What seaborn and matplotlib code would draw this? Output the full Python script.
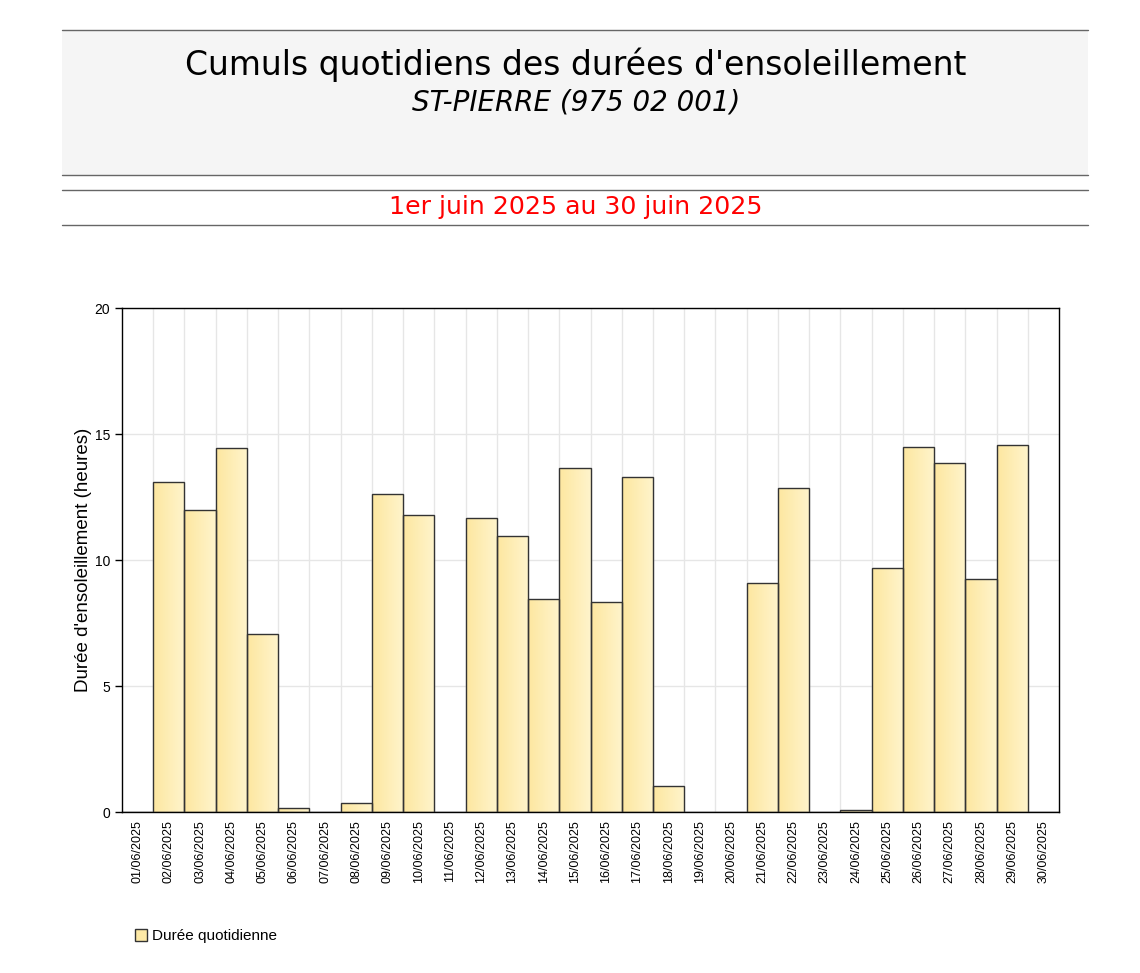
import numpy as np
import pandas as pd
import matplotlib.pyplot as plt
import seaborn as sns
from matplotlib.patches import Rectangle, Patch
from matplotlib.colors import LinearSegmentedColormap

# Daily sunshine totals (hours), June 2025
days = [f"{d:02d}/06/2025" for d in range(1, 31)]
hours = [0.0, 13.1, 12.0, 14.45, 7.05, 0.15, 0.0, 0.35, 12.6, 11.8,
         0.0, 11.65, 10.95, 8.45, 13.65, 8.35, 13.3, 1.05, 0.0, 0.0,
         9.1, 12.85, 0.0, 0.08, 9.7, 14.5, 13.85, 9.25, 14.55, 0.0]
y_ticks = [0, 5, 10, 15, 20]

title = "Cumuls quotidiens des durées d'ensoleillement"
station = "ST-PIERRE (975 02 001)"
period = "1er juin 2025 au 30 juin 2025"
ylabel = "Durée d'ensoleillement (heures)"
legend_label = "Durée quotidienne"

df = pd.DataFrame({"jour": days, "duree": hours})

sns.set_style("white")
plt.rcParams['font.family'] = ['DejaVu Sans']

W, H = 1140, 973
fig = plt.figure(figsize=(W / 100, H / 100), dpi=100)

# header block
def fx(px):
    return px / W

def fy(py):
    return 1 - py / H

fig.patches.append(Rectangle((fx(62), fy(175)), fx(1088) - fx(62), fy(30) - fy(175),
                             transform=fig.transFigure, facecolor="#f5f5f5",
                             edgecolor="none", zorder=0))
for py in [30, 175, 190, 225]:
    fig.add_artist(plt.Line2D([fx(62), fx(1088)], [fy(py), fy(py)],
                              transform=fig.transFigure, color="#666666", lw=1))
cx = fx(576)
fig.text(cx, fy(65), title, ha="center", va="center", fontsize=23.8, color="black")
fig.text(cx, fy(102), station, ha="center", va="center", fontsize=20,
         style="italic", color="black")
fig.text(cx, fy(207), period, ha="center", va="center", fontsize=18.2, color="red")

ax = fig.add_axes([fx(122), fy(812), fx(1059) - fx(122), fy(308) - fy(812)])
sns.barplot(data=df, x="jour", y="duree", ax=ax, width=1.0, color="#fdeaa8",
            edgecolor="#333333", linewidth=1, saturation=1, zorder=2)

# horizontal gradient inside each bar
cmap = LinearSegmentedColormap.from_list("sun", ["#fde7a0", "#fff4cc"])
grad = np.linspace(0, 1, 64).reshape(1, -1)
for bar in ax.patches:
    h = bar.get_height()
    if h <= 0:
        continue
    x0 = bar.get_x()
    w = bar.get_width()
    im = ax.imshow(grad, cmap=cmap, aspect="auto", extent=[x0, x0 + w, 0, h],
                   zorder=2.5, interpolation="bilinear")
    im.set_clip_path(bar)
    bar.set_facecolor("none")
    bar.set_zorder(3)

ax.set_xlim(-0.5, len(days) - 0.5)
ax.set_ylim(0, 20)
ax.set_yticks(y_ticks)
ax.set_xticks(range(len(days)))
ax.set_xticks(np.arange(0.5, len(days) - 0.5, 1), minor=True)
ax.set_xticklabels(days, rotation=90, fontsize=9, family="Liberation Sans", color="black")
ax.set_yticklabels([str(v) for v in y_ticks], fontsize=10, family="Liberation Sans",
                   color="black")
ax.tick_params(axis="x", which="both", length=0, pad=6)
ax.tick_params(axis="y", length=5, width=1, color="black", left=True)
ax.grid(True, axis="y", color="#e6e6e6", lw=1, zorder=0)
ax.grid(True, axis="x", which="minor", color="#e6e6e6", lw=1, zorder=0)
ax.grid(False, axis="x", which="major")
ax.set_axisbelow(True)
ax.set_xlabel("")
ax.set_ylabel(ylabel, fontsize=13.5, family="Liberation Sans", color="black", labelpad=2)
for s in ax.spines.values():
    s.set_visible(True)
    s.set_color("black")
    s.set_linewidth(1)

handle = Patch(facecolor="#fde9a6", edgecolor="#333333", lw=1)
fig.legend([handle], [legend_label], loc="center left",
           bbox_to_anchor=(fx(121), fy(936)), frameon=False,
           prop={"family": "Liberation Sans", "size": 11},
           handlelength=0.8, handleheight=0.8, handletextpad=0.3,
           labelcolor="black")

fig.savefig("out.png", dpi=100)
